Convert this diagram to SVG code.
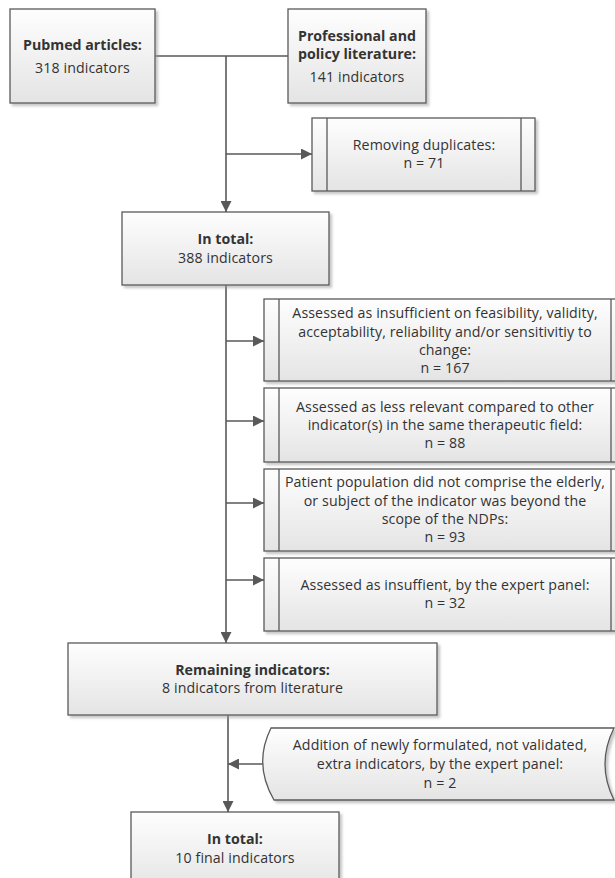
<svg xmlns="http://www.w3.org/2000/svg" width="615" height="878" viewBox="0 0 615 878">
<style>
text{font-family:"Open Sans","Noto Sans","Liberation Sans",sans-serif;font-size:14.2px;letter-spacing:0.1px;fill:#333;text-anchor:middle}
.b{font-weight:bold;letter-spacing:0}
.box{fill:url(#g);stroke:#5a5a5a;stroke-width:1.3;filter:url(#sh)}
.in{stroke:#5a5a5a;stroke-width:1.3;fill:none}
.c{stroke:#595959;stroke-width:1.6;fill:none}
</style>
<defs>
<linearGradient id="g" x1="0" y1="0" x2="0" y2="1">
<stop offset="0" stop-color="#fefefe"/>
<stop offset="1" stop-color="#e4e4e4"/>
</linearGradient>
<filter id="sh" x="-5%" y="-5%" width="115%" height="120%">
<feDropShadow dx="2.5" dy="2.5" stdDeviation="1" flood-color="#9a9a9a" flood-opacity="0.55"/>
</filter>
<marker id="ar" markerUnits="userSpaceOnUse" markerWidth="12" markerHeight="11" refX="11" refY="5.5" orient="auto">
<path d="M0,0 L11,5.5 L0,11 Z" fill="#595959"/>
</marker>
</defs>

<g id="connectors">
<path class="c" d="M155,56 H288"/>
<path class="c" d="M226,56 V212" marker-end="url(#ar)"/>
<path class="c" d="M226,154 H312" marker-end="url(#ar)"/>
<path class="c" d="M226,285 V643" marker-end="url(#ar)"/>
<path class="c" d="M226,341 H264" marker-end="url(#ar)"/>
<path class="c" d="M226,421 H264" marker-end="url(#ar)"/>
<path class="c" d="M226,503 H264" marker-end="url(#ar)"/>
<path class="c" d="M226,580 H264" marker-end="url(#ar)"/>
<path class="c" d="M228,715 V812" marker-end="url(#ar)"/>
<path class="c" d="M264,764 H228" marker-end="url(#ar)"/>
</g>

<g id="pubmed">
<rect class="box" x="10" y="9" width="145" height="94"/>
<text class="b" x="82.5" y="50">Pubmed articles:</text>
<text x="82.5" y="73">318 indicators</text>
</g>

<g id="professional">
<rect class="box" x="288" y="9" width="138" height="94"/>
<text class="b" x="357" y="41">Professional and</text>
<text class="b" x="357" y="59">policy literature:</text>
<text x="357" y="82">141 indicators</text>
</g>

<g id="duplicates">
<rect class="box" x="312" y="118" width="223" height="73"/>
<path class="in" d="M327,118 V191 M521,118 V191"/>
<text x="424" y="150">Removing duplicates:</text>
<text x="424" y="168">n = 71</text>
</g>

<g id="total1">
<rect class="box" x="122" y="212" width="207" height="73"/>
<text class="b" x="225.5" y="244">In total:</text>
<text x="225.5" y="263">388 indicators</text>
</g>

<g id="excl1">
<rect class="box" x="264" y="299" width="362" height="82"/>
<path class="in" d="M279,299 V381 M611,299 V381"/>
<text x="445" y="318">Assessed as insufficient on feasibility, validity,</text>
<text x="445" y="337">acceptability, reliability and/or sensitivitiy to</text>
<text x="445" y="355">change:</text>
<text x="445" y="373">n = 167</text>
</g>

<g id="excl2">
<rect class="box" x="264" y="388" width="362" height="74"/>
<path class="in" d="M279,388 V462 M611,388 V462"/>
<text x="445" y="412">Assessed as less relevant compared to other</text>
<text x="445" y="430">indicator(s) in the same therapeutic field:</text>
<text x="445" y="448">n = 88</text>
</g>

<g id="excl3">
<rect class="box" x="264" y="469" width="362" height="82"/>
<path class="in" d="M279,469 V551 M611,469 V551"/>
<text x="445" y="487">Patient population did not comprise the elderly,</text>
<text x="445" y="506">or subject of the indicator was beyond the</text>
<text x="445" y="524">scope of the NDPs:</text>
<text x="445" y="542">n = 93</text>
</g>

<g id="excl4">
<rect class="box" x="264" y="558" width="362" height="73"/>
<path class="in" d="M279,558 V631 M611,558 V631"/>
<text x="445" y="590">Assessed as insuffient, by the expert panel:</text>
<text x="445" y="608">n = 32</text>
</g>

<g id="remaining">
<rect class="box" x="68" y="643" width="369" height="72"/>
<text class="b" x="252.5" y="675">Remaining indicators:</text>
<text x="252.5" y="693">8 indicators from literature</text>
</g>

<g id="addition">
<path class="box" d="M271,728 L614,728 Q596,764 614,800 L274,800 Q253,764 271,728 Z"/>
<text x="440" y="750">Addition of newly formulated, not validated,</text>
<text x="440" y="769">extra indicators, by the expert panel:</text>
<text x="440" y="788">n = 2</text>
</g>

<g id="total2">
<rect class="box" x="131" y="812" width="208" height="80"/>
<text class="b" x="235" y="844">In total:</text>
<text x="235" y="863">10 final indicators</text>
</g>
</svg>
